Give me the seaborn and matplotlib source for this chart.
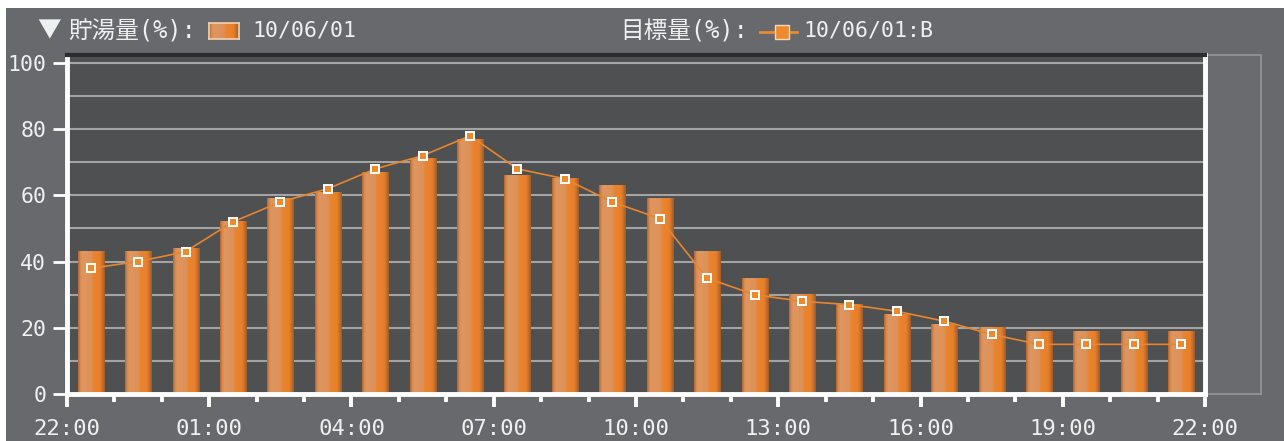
import numpy as np
import pandas as pd
import seaborn as sns
import matplotlib.pyplot as plt
from matplotlib.colors import LinearSegmentedColormap
from matplotlib.patches import Rectangle
from matplotlib.lines import Line2D
from matplotlib.ticker import FixedLocator

# hourly slots starting at 22:00
hours = ["22:00", "23:00", "00:00", "01:00", "02:00", "03:00", "04:00", "05:00",
         "06:00", "07:00", "08:00", "09:00", "10:00", "11:00", "12:00", "13:00",
         "14:00", "15:00", "16:00", "17:00", "18:00", "19:00", "20:00", "21:00"]
stored = [43, 43, 44, 52, 59, 61, 67, 71, 77, 66, 65, 63,
          59, 43, 35, 30, 27, 24, 21, 20, 19, 19, 19, 19]
target = [38, 40, 43, 52, 58, 62, 68, 72, 78, 68, 65, 58,
          53, 35, 30, 28, 27, 25, 22, 18, 15, 15, 15, 15]
tick_labels = ["22:00", "01:00", "04:00", "07:00", "10:00",
               "13:00", "16:00", "19:00", "22:00"]
y_ticks = [0, 20, 40, 60, 80, 100]

plt.rcParams['font.family'] = ['DejaVu Sans Mono', 'Noto Sans CJK JP']

W, H = 1284, 441
TXT = '#f0f0f0'
ORANGE = '#ee8a2e'


def fx(px):
    return px / W


def fy(py):
    return 1 - py / H


fig = plt.figure(figsize=(W / 100, H / 100), dpi=100, facecolor='white')
fig.patches.append(Rectangle((fx(6), 0), 1 - fx(6), fy(8), transform=fig.transFigure,
                             facecolor='#68696d', edgecolor='none', zorder=-10))
# empty side panel on the right
fig.patches.append(Rectangle((fx(1207), fy(394)), fx(1261) - fx(1207), fy(55) - fy(394),
                             transform=fig.transFigure, facecolor='#6a6b6f',
                             edgecolor='#8d8e90', lw=1.5, zorder=-5))

ax = fig.add_axes([fx(67), fy(394), fx(1205) - fx(67), fy(55) - fy(394)])
ax.set_facecolor('#4f5052')

df = pd.DataFrame({'slot': np.arange(len(hours)), 'hour': hours,
                   'stored': stored, 'target': target})

sns.barplot(data=df, x='slot', y='stored', native_scale=True, width=0.55,
            color='#e08a45', linewidth=0, errorbar=None, ax=ax)

# cylinder-like shading on each bar
bar_cmap = LinearSegmentedColormap.from_list('bar', [
    (0.0, '#b4672e'), (0.08, '#d88b52'), (0.16, '#df9660'), (0.5, '#dd9158'),
    (0.58, '#e8842f'), (0.82, '#e9802a'), (0.92, '#c56e2b'), (1.0, '#9b5d2b')])
grad = np.linspace(0, 1, 64).reshape(1, -1)
for p in list(ax.patches):
    x0, y0, w, h = p.get_x(), p.get_y(), p.get_width(), p.get_height()
    ax.imshow(grad, cmap=bar_cmap, extent=[x0, x0 + w, y0, y0 + h], aspect='auto',
              interpolation='bilinear', zorder=p.get_zorder() + 0.1)

sns.lineplot(data=df, x='slot', y='target', color='#e8862f', lw=1.2, marker='s',
             markersize=5.5, markerfacecolor=ORANGE, markeredgecolor='white',
             markeredgewidth=1.4, zorder=5, ax=ax)

ax.set_xlim(-0.5, len(hours) - 0.5)
ax.set_ylim(0, 102.4)
ax.set_xlabel('')
ax.set_ylabel('')

ax.xaxis.set_major_locator(FixedLocator(np.arange(-0.5, len(hours), 3)))
ax.xaxis.set_minor_locator(FixedLocator(np.arange(-0.5, len(hours) + 0.5, 1)))
ax.set_xticklabels(tick_labels)
ax.set_yticks(y_ticks)
ax.set_yticks(np.arange(0, 101, 10), minor=True)
ax.grid(axis='y', which='both', color='#a4a4a4', lw=1.5)
ax.set_axisbelow(True)

ax.tick_params(axis='x', which='major', length=9.5, width=2.8, color='white',
               pad=8.5, labelcolor=TXT, labelsize=16)
ax.tick_params(axis='x', which='minor', length=5.5, width=2.8, color='white')
ax.tick_params(axis='y', which='major', length=10, width=2, color='white',
               pad=5, labelcolor=TXT, labelsize=15.5)
ax.tick_params(axis='y', which='minor', length=0)

for side in ['left', 'bottom', 'right']:
    ax.spines[side].set_color('white')
    ax.spines[side].set_linewidth(3.5)
ax.spines['top'].set_color('#2c2c2e')
ax.spines['top'].set_linewidth(3)

# header legend
ty = fy(31)
fig.text(fx(37), ty, '▼', color=TXT, fontsize=17, va='center',
         family=['Noto Sans CJK JP', 'DejaVu Sans'])
fig.text(fx(68), ty, '貯湯量(%):', color=TXT, fontsize=17, va='center')
icon_ax = fig.add_axes([fx(209), fy(39), 30 / W, 16 / H])
icon_ax.imshow(grad, cmap=bar_cmap, aspect='auto', interpolation='bilinear')
icon_ax.set_xticks([])
icon_ax.set_yticks([])
for s in icon_ax.spines.values():
    s.set_color('#f3d2b5')
    s.set_linewidth(1.2)
fig.text(fx(252), ty, '10/06/01', color=TXT, fontsize=15.5, va='center')

fig.text(fx(620), ty, '目標量(%):', color=TXT, fontsize=17, va='center')
fig.lines.append(Line2D([fx(760), fx(797)], [fy(32), fy(32)], transform=fig.transFigure,
                       color=ORANGE, lw=2))
fig.lines.append(Line2D([fx(782)], [fy(32)], transform=fig.transFigure, marker='s',
                       markersize=10, markerfacecolor=ORANGE, markeredgecolor='#f6d9bd',
                       markeredgewidth=1, linestyle='none'))
fig.text(fx(803), ty, '10/06/01:B', color=TXT, fontsize=15.5, va='center')

fig.savefig('out.png', dpi=100)
